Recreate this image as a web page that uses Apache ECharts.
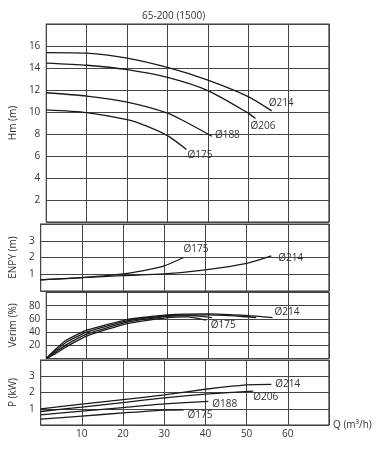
<!DOCTYPE html>
<html><head><meta charset="utf-8">
<script src="https://cdn.jsdelivr.net/npm/echarts@6/dist/echarts.min.js"></script>
<style>html,body{margin:0;padding:0;background:#fff}#c{width:380px;height:451px}</style>
</head><body><div id="c"></div>
<script>
// ---- data ----
var title = '65-200 (1500)';
var xTicks = [10, 20, 30, 40, 50, 60];
// Hm (m)
var hQ214 = [0, 10, 20, 30, 40, 50, 55.8];
var hV214 = [15.4, 15.35, 14.9, 14.05, 12.9, 11.4, 10.1];
var hQ206 = [0, 10, 20, 30, 40, 50, 51.8];
var hV206 = [14.45, 14.25, 13.85, 13.15, 11.95, 9.9, 9.4];
var hQ188 = [0, 10, 20, 30, 35, 41];
var hV188 = [11.75, 11.45, 10.9, 9.9, 9.0, 7.8];
var hQ175 = [0, 10, 20, 25, 30, 34.7];
var hV175 = [10.2, 9.95, 9.3, 8.7, 7.85, 6.6];
// ENPY (m)
var nQ175 = [0, 10, 20, 25, 30, 34.7];
var nV175 = [0.67, 0.8, 1.02, 1.22, 1.5, 2.0];
var nQ214 = [0, 10, 20, 30, 40, 50, 56];
var nV214 = [0.67, 0.8, 0.92, 1.02, 1.26, 1.65, 2.1];
// Verim (%)
var eQ214 = [0, 2, 5, 10, 20, 30, 40, 50, 56];
var eV214 = [0, 12.5, 28, 43, 59, 66, 67.5, 65, 62];
var eQ206 = [0, 2, 5, 10, 20, 30, 40, 48, 52];
var eV206 = [0, 10.5, 25, 40, 57, 65, 66, 64, 62];
var eQ188 = [0, 2, 5, 10, 20, 30, 36, 41];
var eV188 = [0, 8.5, 21, 37, 55, 64, 65, 62];
var eQ175 = [0, 2, 5, 10, 20, 30, 35, 39.5];
var eV175 = [0, 6.5, 18, 34, 53, 62, 63, 58];
// P (kW)
var pQ214 = [0, 10, 20, 30, 40, 50, 56];
var pV214 = [0.99, 1.28, 1.56, 1.85, 2.2, 2.47, 2.5];
var pQ206 = [0, 10, 20, 30, 40, 51.6];
var pV206 = [0.83, 1.1, 1.38, 1.67, 1.9, 2.08];
var pQ188 = [0, 10, 20, 30, 40.7];
var pV188 = [0.62, 0.85, 1.07, 1.3, 1.46];
var pQ175 = [0, 10, 20, 30, 34.7];
var pV175 = [0.36, 0.55, 0.74, 0.92, 0.94];

function zip(a, b) { return a.map(function (v, i) { return [v, b[i]]; }); }

var FONT = 'Open Sans';
var TXT = '#333';
var gridLine = { show: true, lineStyle: { color: '#444', width: 1 } };

var grids = [
  { left: 40, right: 51, top: 24, height: 198 },
  { left: 40, right: 51, top: 224, height: 67 },
  { left: 40, right: 51, top: 292.5, height: 66 },
  { left: 40, right: 51, top: 360, height: 65 }
].map(function (g) {
  g.show = true; g.borderColor = '#333'; g.borderWidth = 1.2; g.containLabel = false;
  return g;
});

function xAxisFor(i, last) {
  return {
    type: 'value', gridIndex: i, min: 0, max: 70, interval: 10,
    axisLine: { show: false }, axisTick: { show: false },
    splitLine: gridLine,
    axisLabel: {
      show: last, color: TXT, fontFamily: FONT, fontSize: 10, margin: 4,
      formatter: function (v) { return xTicks.indexOf(v) >= 0 ? String(v) : ''; }
    },
    name: last ? 'Q (m³/h)' : '', nameLocation: 'end', nameGap: 4,
    nameTextStyle: { color: TXT, fontFamily: FONT, fontSize: 10, verticalAlign: 'middle' }
  };
}
function yAxisFor(i, name, min, max, interval) {
  return {
    type: 'value', gridIndex: i, min: min, max: max, interval: interval,
    axisLine: { show: false }, axisTick: { show: false },
    splitLine: gridLine,
    axisLabel: {
      color: TXT, fontFamily: FONT, fontSize: 10, margin: 6,
      formatter: function (v) { return (v === min || v === max) ? '' : String(v); }
    },
    name: name, nameLocation: 'middle', nameGap: 21, nameRotate: 90,
    nameTextStyle: { color: TXT, fontFamily: FONT, fontSize: 10 }
  };
}

function line(gi, q, v, label, off, smooth) {
  return {
    type: 'line', xAxisIndex: gi, yAxisIndex: gi, data: zip(q, v),
    smooth: smooth == null ? 0.25 : smooth, showSymbol: false, symbol: 'none',
    lineStyle: { color: '#1a1a1a', width: 1.3 },
    endLabel: label ? {
      show: true, formatter: label, distance: 0, offset: off,
      color: TXT, fontFamily: FONT, fontSize: 10
    } : { show: false },
    animation: false, silent: true
  };
}

var option = {
  animation: false,
  backgroundColor: '#fff',
  title: {
    text: title, left: 137, top: 6,
    textStyle: { color: TXT, fontFamily: FONT, fontSize: 10, fontWeight: 'normal' }
  },
  grid: grids,
  xAxis: [xAxisFor(0, false), xAxisFor(1, false), xAxisFor(2, false), xAxisFor(3, true)],
  yAxis: [
    yAxisFor(0, 'Hm (m)', 0, 18, 2),
    yAxisFor(1, 'ENPY (m)', 0, 4, 1),
    yAxisFor(2, 'Verim (%)', 0, 100, 20),
    yAxisFor(3, 'P (kW)', 0, 4, 1)
  ],
  series: [
    line(0, hQ214, hV214, 'Ø214', [-3, -8]),
    line(0, hQ206, hV206, 'Ø206', [-5, 8]),
    line(0, hQ188, hV188, 'Ø188', [3, -1]),
    line(0, hQ175, hV175, 'Ø175', [1, 6]),
    line(1, nQ175, nV175, 'Ø175', [0, -8]),
    line(1, nQ214, nV214, 'Ø214', [7, 2]),
    line(2, eQ214, eV214, 'Ø214', [2, -5], 0.15),
    line(2, eQ206, eV206, null, null, 0.15),
    line(2, eQ188, eV188, null, null, 0.15),
    line(2, eQ175, eV175, 'Ø175', [5, 5], 0.15),
    line(3, pQ214, pV214, 'Ø214', [4, 0], 0.2),
    line(3, pQ206, pV206, 'Ø206', [0, 6], 0.2),
    line(3, pQ188, pV188, 'Ø188', [4, 3], 0.2),
    line(3, pQ175, pV175, 'Ø175', [4, 5], 0.2)
  ]
};
var chart = echarts.init(document.getElementById('c'), null, { renderer: 'canvas' });
chart.setOption(option);
</script>
</body></html>
